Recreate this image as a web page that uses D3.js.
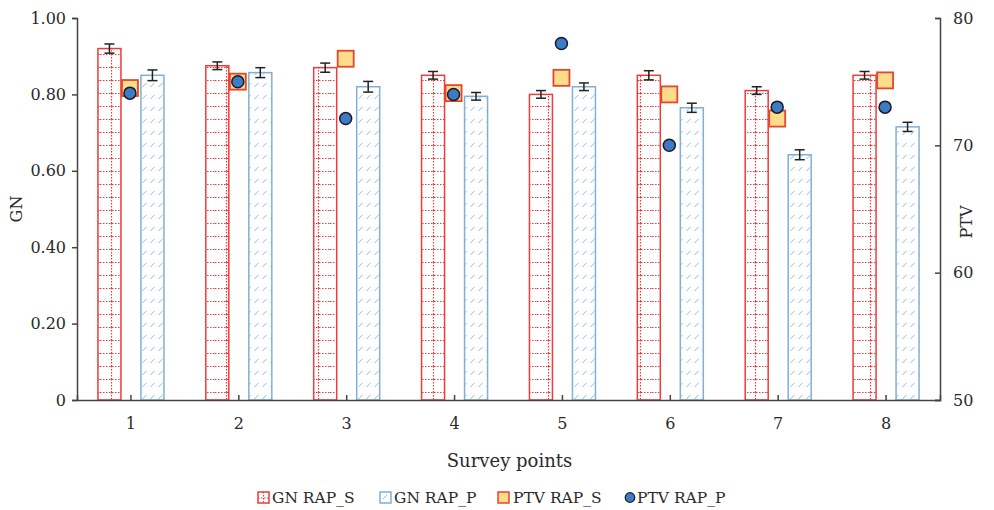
<!DOCTYPE html>
<html>
<head>
<meta charset="utf-8">
<script src="https://cdn.jsdelivr.net/npm/d3@7"></script>
<style>
  body { margin: 0; background: #fff; }
  svg text { font-family: "DejaVu Serif", serif; fill: #2a2a2a; }
</style>
</head>
<body>
<div id="chart"></div>
<script>
const points = ['1', '2', '3', '4', '5', '6', '7', '8'];
const gn_rap_s = [0.92, 0.875, 0.87, 0.85, 0.80, 0.85, 0.81, 0.85];
const gn_rap_p = [0.85, 0.857, 0.82, 0.795, 0.82, 0.765, 0.642, 0.715];
const gn_err_s = [0.012, 0.01, 0.012, 0.01, 0.01, 0.012, 0.01, 0.01];
const gn_err_p = [0.014, 0.013, 0.014, 0.01, 0.01, 0.012, 0.013, 0.012];
const ptv_rap_s = [74.5, 75.0, 76.8, 74.1, 75.3, 74.0, 72.1, 75.1];
const ptv_rap_p = [74.1, 75.0, 72.1, 74.0, 78.0, 70.0, 73.0, 73.0];
const gn_ticks = [0, 0.2, 0.4, 0.6, 0.8, 1.0];
const ptv_ticks = [50, 60, 70, 80];

const width = 994, height = 510;
const margin = { top: 18, right: 54, bottom: 110, left: 77 };
const plot_w = width - margin.left - margin.right;
const plot_h = height - margin.top - margin.bottom;

const svg = d3.select('#chart').append('svg')
    .attr('width', width)
    .attr('height', height);

const defs = svg.append('defs');

// red dotted grid pattern
const red_pat = defs.append('pattern')
    .attr('id', 'red-grid')
    .attr('patternUnits', 'userSpaceOnUse')
    .attr('width', 23)
    .attr('height', 13)
    .attr('x', 0)
    .attr('y', 400 - 13 * 30);
red_pat.append('rect').attr('width', 23).attr('height', 13).attr('fill', '#fff');
red_pat.append('line')
    .attr('x1', 0).attr('x2', 23).attr('y1', 0.5).attr('y2', 0.5)
    .attr('stroke', '#ee3b3b').attr('stroke-width', 1.2).attr('stroke-dasharray', '1.5,1.5');
red_pat.append('line')
    .attr('x1', 11.5).attr('x2', 11.5).attr('y1', 0).attr('y2', 13)
    .attr('stroke', '#ee3b3b').attr('stroke-width', 1.2).attr('stroke-dasharray', '1.5,1.5');

// blue hatched pattern
const blue_pat = defs.append('pattern')
    .attr('id', 'blue-hatch')
    .attr('patternUnits', 'userSpaceOnUse')
    .attr('width', 8)
    .attr('height', 12);
blue_pat.append('rect').attr('width', 8).attr('height', 12).attr('fill', '#fff');
blue_pat.append('line')
    .attr('x1', 1.5).attr('y1', 9).attr('x2', 5.5).attr('y2', 5)
    .attr('stroke', '#8fb8dc').attr('stroke-width', 1);

const g = svg.append('g').attr('transform', `translate(${margin.left},${margin.top})`);

const x = d3.scaleBand().domain(points).range([0, plot_w]);
const y_gn = d3.scaleLinear().domain([0, 1]).range([plot_h, 0]);
const y_ptv = d3.scaleLinear().domain([50, 80]).range([plot_h, 0]);

const bar_w = 23;
const bar_off = 21.5;

// bars RAP_S
g.selectAll('.bar-s')
    .data(points)
    .enter()
    .append('rect')
    .attr('class', 'bar-s')
    .attr('x', (d) => x(d) + x.bandwidth() / 2 - bar_off - bar_w / 2)
    .attr('y', (d, i) => y_gn(gn_rap_s[i]))
    .attr('width', bar_w)
    .attr('height', (d, i) => plot_h - y_gn(gn_rap_s[i]))
    .attr('fill', 'url(#red-grid)')
    .attr('stroke', '#ee3b3b')
    .attr('stroke-width', 1.5);

// bars RAP_P
g.selectAll('.bar-p')
    .data(points)
    .enter()
    .append('rect')
    .attr('class', 'bar-p')
    .attr('x', (d) => x(d) + x.bandwidth() / 2 + bar_off - bar_w / 2)
    .attr('y', (d, i) => y_gn(gn_rap_p[i]))
    .attr('width', bar_w)
    .attr('height', (d, i) => plot_h - y_gn(gn_rap_p[i]))
    .attr('fill', 'url(#blue-hatch)')
    .attr('stroke', '#7fb0da')
    .attr('stroke-width', 1.5);

// error bars
function draw_errors(values, errs, off) {
    const eg = g.append('g');
    points.forEach((p, i) => {
        const cx = x(p) + x.bandwidth() / 2 + off;
        const y1 = y_gn(values[i] + errs[i]);
        const y2 = y_gn(values[i] - errs[i]);
        eg.append('line').attr('x1', cx).attr('x2', cx).attr('y1', y1).attr('y2', y2)
            .attr('stroke', '#222').attr('stroke-width', 1.5);
        [y1, y2].forEach((yy) => {
            eg.append('line').attr('x1', cx - 5).attr('x2', cx + 5).attr('y1', yy).attr('y2', yy)
                .attr('stroke', '#222').attr('stroke-width', 1.5);
        });
    });
}
draw_errors(gn_rap_s, gn_err_s, -bar_off);
draw_errors(gn_rap_p, gn_err_p, bar_off);

// PTV squares
const sq = 16;
g.selectAll('.ptv-s')
    .data(points)
    .enter()
    .append('rect')
    .attr('class', 'ptv-s')
    .attr('x', (d) => x(d) + x.bandwidth() / 2 - sq / 2 - 1)
    .attr('y', (d, i) => y_ptv(ptv_rap_s[i]) - sq / 2)
    .attr('width', sq)
    .attr('height', sq)
    .attr('fill', '#fddc8c')
    .attr('stroke', '#e8452c')
    .attr('stroke-width', 1.8);

// PTV circles
g.selectAll('.ptv-p')
    .data(points)
    .enter()
    .append('circle')
    .attr('class', 'ptv-p')
    .attr('cx', (d) => x(d) + x.bandwidth() / 2 - 1)
    .attr('cy', (d, i) => y_ptv(ptv_rap_p[i]))
    .attr('r', 6)
    .attr('fill', '#3d7cc4')
    .attr('stroke', '#1a1a2a')
    .attr('stroke-width', 1.5);

// axes
const ax_color = '#444';

const left_axis = g.append('g')
    .call(d3.axisLeft(y_gn).tickValues(gn_ticks).tickSize(5).tickPadding(6)
        .tickFormat((d) => d === 0 ? '0' : d3.format('.2f')(d)));

const right_axis = g.append('g')
    .attr('transform', `translate(${plot_w},0)`)
    .call(d3.axisRight(y_ptv).tickValues(ptv_ticks).tickSize(-5).tickPadding(13));

const bottom_axis = g.append('g')
    .attr('transform', `translate(0,${plot_h})`)
    .call(d3.axisBottom(x).tickSize(-5).tickPadding(18));

[left_axis, right_axis, bottom_axis].forEach((a) => {
    a.select('.domain').attr('stroke', ax_color).attr('stroke-width', 1.5);
    a.selectAll('.tick line').attr('stroke', ax_color).attr('stroke-width', 1.5);
    a.selectAll('.tick text')
        .style('font-family', '"DejaVu Serif", serif')
        .style('font-size', '16px')
        .attr('fill', '#2a2a2a');
});

// axis titles
svg.append('text')
    .attr('transform', `translate(22, ${margin.top + plot_h / 2}) rotate(-90)`)
    .attr('text-anchor', 'middle')
    .style('font-size', '16px')
    .text('GN');

svg.append('text')
    .attr('transform', `translate(972, 222) rotate(-90)`)
    .attr('text-anchor', 'middle')
    .style('font-size', '16px')
    .text('PTV');

svg.append('text')
    .attr('x', margin.left + plot_w / 2 + 1)
    .attr('y', 467)
    .attr('text-anchor', 'middle')
    .style('font-size', '18px')
    .text('Survey points');

// legend
const legend_items = [
    { label: 'GN RAP_S', type: 'red', x: 258 },
    { label: 'GN RAP_P', type: 'blue', x: 380 },
    { label: 'PTV RAP_S', type: 'square', x: 498 },
    { label: 'PTV RAP_P', type: 'circle', x: 625 },
];
const legend_y = 498;
const legend = svg.selectAll('.legend')
    .data(legend_items)
    .enter()
    .append('g')
    .attr('class', 'legend')
    .attr('transform', (d) => `translate(${d.x}, ${legend_y})`);

legend.each(function (d) {
    const el = d3.select(this);
    let text_x = 14;
    if (d.type === 'red') {
        el.append('rect').attr('x', 0).attr('y', -6).attr('width', 11).attr('height', 11)
            .attr('fill', '#fff').attr('stroke', '#ee3b3b').attr('stroke-width', 1.5);
        el.append('line').attr('x1', 5.5).attr('x2', 5.5).attr('y1', -6).attr('y2', 5)
            .attr('stroke', '#ee3b3b').attr('stroke-dasharray', '1.5,1.5');
        el.append('line').attr('x1', 0).attr('x2', 11).attr('y1', 0).attr('y2', 0)
            .attr('stroke', '#ee3b3b').attr('stroke-dasharray', '1.5,1.5');
    } else if (d.type === 'blue') {
        el.append('rect').attr('x', 0).attr('y', -6).attr('width', 11).attr('height', 11)
            .attr('fill', '#fff').attr('stroke', '#7fb0da').attr('stroke-width', 1.5);
        el.append('line').attr('x1', 3).attr('x2', 7).attr('y1', 1).attr('y2', -3)
            .attr('stroke', '#8fb8dc');
    } else if (d.type === 'square') {
        el.append('rect').attr('x', 0).attr('y', -6).attr('width', 11).attr('height', 11)
            .attr('fill', '#fddc8c').attr('stroke', '#e8452c').attr('stroke-width', 1.5);
        text_x = 15;
    } else {
        el.append('circle').attr('cx', 5).attr('cy', -0.5).attr('r', 4.8)
            .attr('fill', '#3d7cc4').attr('stroke', '#1a1a2a').attr('stroke-width', 1.2);
        text_x = 12;
    }
    el.append('text')
        .attr('x', text_x)
        .attr('y', 5)
        .style('font-size', '15.5px')
        .text(d.label);
});
</script>
</body>
</html>
